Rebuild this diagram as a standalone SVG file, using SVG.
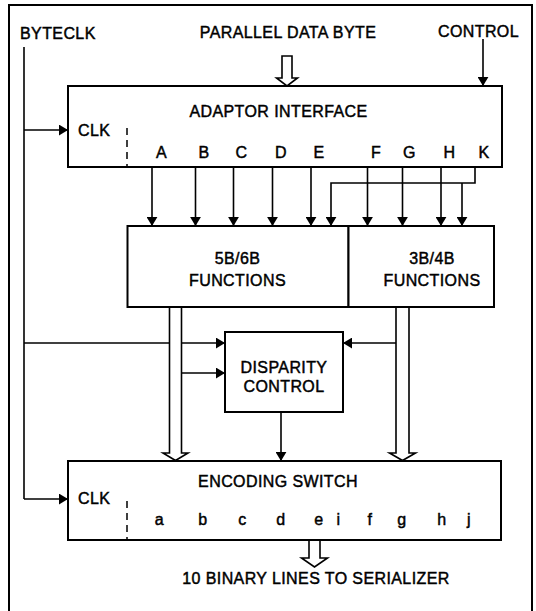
<svg xmlns="http://www.w3.org/2000/svg" width="536" height="611" viewBox="0 0 536 611">
<defs>
<style>
text{font-family:"Liberation Sans",Arial,Helvetica,sans-serif;font-size:16px;fill:#000;stroke:#000;stroke-width:0.45;letter-spacing:0.4px}
.m{text-anchor:middle}
.box{fill:#fff;stroke:#000;stroke-width:2}
.ln{fill:none;stroke:#000;stroke-width:1.6}
.dash{fill:none;stroke:#000;stroke-width:1.5;stroke-dasharray:7 5}
.hollow{fill:#fff;stroke:#000;stroke-width:1.6;stroke-linejoin:miter}
</style>
<marker id="ah" viewBox="0 0 10 12" refX="10" refY="6" markerWidth="9" markerHeight="11" markerUnits="userSpaceOnUse" orient="auto">
<path d="M0,0 L10,6 L0,12 z" fill="#000"/>
</marker>
</defs>
<rect x="0" y="0" width="536" height="611" fill="#fff"/>
<rect id="frame" x="9" y="5" width="523" height="612" fill="none" stroke="#000" stroke-width="2"/>

<g id="labels-top">
<text x="20" y="39">BYTECLK</text>
<text class="m" x="288" y="38">PARALLEL DATA BYTE</text>
<text class="m" x="478.5" y="37">CONTROL</text>
</g>

<g id="connectors">
<path class="ln" d="M24,47 V499"/>
<path class="ln" d="M24,130 H68" marker-end="url(#ah)"/>
<path class="ln" d="M24,343 H225" marker-end="url(#ah)"/>
<path class="ln" d="M24,499 H68" marker-end="url(#ah)"/>
<path class="ln" d="M483,39 V86" marker-end="url(#ah)"/>
<path class="ln" d="M152,167 V226" marker-end="url(#ah)"/>
<path class="ln" d="M195.5,167 V226" marker-end="url(#ah)"/>
<path class="ln" d="M233.5,167 V226" marker-end="url(#ah)"/>
<path class="ln" d="M272.5,167 V226" marker-end="url(#ah)"/>
<path class="ln" d="M311,167 V226" marker-end="url(#ah)"/>
<path class="ln" d="M367.5,167 V226" marker-end="url(#ah)"/>
<path class="ln" d="M402.5,167 V226" marker-end="url(#ah)"/>
<path class="ln" d="M441,167 V226" marker-end="url(#ah)"/>
<path class="ln" d="M475,167 V183 H331 V226" marker-end="url(#ah)"/>
<path class="ln" d="M462,183 V226" marker-end="url(#ah)"/>
<path class="ln" d="M181.5,373 H225" marker-end="url(#ah)"/>
<path class="ln" d="M396,343 H343" marker-end="url(#ah)"/>
<path class="ln" d="M281,412 V461" marker-end="url(#ah)"/>
<path class="hollow" d="M282,56 H292 V78 H297.5 L287,86 L276.5,78 H282 Z"/>
<path class="hollow" d="M169.5,307 V453 H163 L175.5,460.5 L188,453 H181.5 V307"/>
<path class="hollow" d="M396,307 V453 H389.5 L402.5,460.5 L415.5,453 H409 V307"/>
<path class="hollow" d="M309,541 V558 H301.5 L314.5,567 L327.5,558 H320 V541"/>
</g>

<g id="adaptor">
<rect class="box" x="68" y="86" width="434" height="81"/>
<path class="dash" d="M127,128 V167"/>
<text class="m" x="278.5" y="117">ADAPTOR INTERFACE</text>
<text x="78" y="136">CLK</text>
<text class="m" x="161.5" y="158">A</text>
<text class="m" x="204" y="158">B</text>
<text class="m" x="241.5" y="158">C</text>
<text class="m" x="281" y="158">D</text>
<text class="m" x="319" y="158">E</text>
<text class="m" x="376" y="158">F</text>
<text class="m" x="409.5" y="158">G</text>
<text class="m" x="449.5" y="158">H</text>
<text class="m" x="484" y="158">K</text>
</g>

<g id="f5b6b">
<rect class="box" x="127.5" y="226" width="221" height="81"/>
<text class="m" x="237.5" y="264">5B/6B</text>
<text class="m" x="237.5" y="286">FUNCTIONS</text>
</g>

<g id="f3b4b">
<rect class="box" x="348.5" y="226" width="145.5" height="81"/>
<text class="m" x="432" y="264">3B/4B</text>
<text class="m" x="432" y="286">FUNCTIONS</text>
</g>

<g id="disparity">
<rect class="box" x="225" y="332" width="118" height="80"/>
<text class="m" x="284" y="373">DISPARITY</text>
<text class="m" x="284" y="392">CONTROL</text>
</g>

<g id="encoding">
<rect class="box" x="68" y="461" width="433" height="79"/>
<path class="dash" d="M127,501 V540"/>
<text class="m" x="278" y="487">ENCODING SWITCH</text>
<text x="78" y="504">CLK</text>
<text class="m" x="159.5" y="525">a</text>
<text class="m" x="203" y="525">b</text>
<text class="m" x="242.5" y="525">c</text>
<text class="m" x="281" y="525">d</text>
<text class="m" x="319" y="525">e</text>
<text class="m" x="338.5" y="525">i</text>
<text class="m" x="370" y="525">f</text>
<text class="m" x="402" y="525">g</text>
<text class="m" x="442" y="525">h</text>
<text class="m" x="469" y="525">j</text>
</g>

<g id="output-label">
<text class="m" x="316" y="584">10 BINARY LINES TO SERIALIZER</text>
</g>
</svg>
